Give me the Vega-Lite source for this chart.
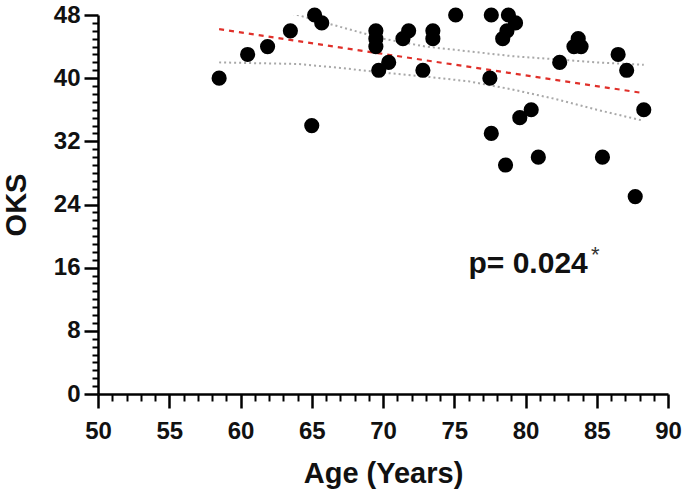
{
  "$schema": "https://vega.github.io/schema/vega-lite/v6.json",
  "width": 570,
  "height": 379,
  "autosize": "none",
  "padding": {"left": 98, "top": 15, "right": 17, "bottom": 102},
  "background": "white",
  "config": {"view": {"stroke": null}},
  "datasets": {
    "points": [
      {"age": 58.5, "oks": 40}, {"age": 60.5, "oks": 43}, {"age": 61.9, "oks": 44}, {"age": 63.5, "oks": 46},
      {"age": 65.0, "oks": 34}, {"age": 65.2, "oks": 48}, {"age": 65.7, "oks": 47}, {"age": 69.5, "oks": 46},
      {"age": 69.5, "oks": 45}, {"age": 69.5, "oks": 44}, {"age": 69.7, "oks": 41}, {"age": 70.4, "oks": 42},
      {"age": 71.4, "oks": 45}, {"age": 71.8, "oks": 46}, {"age": 72.8, "oks": 41}, {"age": 73.5, "oks": 46},
      {"age": 73.5, "oks": 45}, {"age": 75.1, "oks": 48}, {"age": 77.6, "oks": 48}, {"age": 77.5, "oks": 40},
      {"age": 77.6, "oks": 33}, {"age": 78.8, "oks": 48}, {"age": 79.3, "oks": 47}, {"age": 78.7, "oks": 46},
      {"age": 78.4, "oks": 45}, {"age": 78.6, "oks": 29}, {"age": 79.6, "oks": 35}, {"age": 80.4, "oks": 36},
      {"age": 80.9, "oks": 30}, {"age": 82.4, "oks": 42}, {"age": 83.4, "oks": 44}, {"age": 83.9, "oks": 44},
      {"age": 83.7, "oks": 45}, {"age": 85.4, "oks": 30}, {"age": 86.5, "oks": 43}, {"age": 87.1, "oks": 41},
      {"age": 87.7, "oks": 25}, {"age": 88.3, "oks": 36}
    ],
    "fit": [
      {"age": 58.5, "oks": 46.2}, {"age": 88.3, "oks": 38.1}
    ],
    "band": [
      {"age": 58.5, "oks": 50.4, "bound": "upper"}, {"age": 61, "oks": 49.2, "bound": "upper"},
      {"age": 64, "oks": 48.0, "bound": "upper"}, {"age": 67, "oks": 46.5, "bound": "upper"},
      {"age": 70, "oks": 45.0, "bound": "upper"}, {"age": 73, "oks": 44.0, "bound": "upper"},
      {"age": 76, "oks": 43.4, "bound": "upper"}, {"age": 79, "oks": 42.8, "bound": "upper"},
      {"age": 82, "oks": 42.4, "bound": "upper"}, {"age": 85, "oks": 42.0, "bound": "upper"},
      {"age": 88.3, "oks": 41.7, "bound": "upper"},
      {"age": 58.5, "oks": 42.0, "bound": "lower"}, {"age": 61, "oks": 41.9, "bound": "lower"},
      {"age": 64, "oks": 41.8, "bound": "lower"}, {"age": 67, "oks": 41.3, "bound": "lower"},
      {"age": 70, "oks": 40.7, "bound": "lower"}, {"age": 73, "oks": 40.2, "bound": "lower"},
      {"age": 76, "oks": 39.6, "bound": "lower"}, {"age": 79, "oks": 38.6, "bound": "lower"},
      {"age": 82, "oks": 37.4, "bound": "lower"}, {"age": 85, "oks": 36.0, "bound": "lower"},
      {"age": 88.3, "oks": 34.6, "bound": "lower"}
    ],
    "label": [
      {"age": 76.0, "oks": 16.5, "text": "p= 0.024"}
    ],
    "star": [
      {"age": 84.6, "oks": 17.6, "text": "*"}
    ]
  },
  "encoding": {
    "x": {
      "field": "age",
      "type": "quantitative",
      "scale": {"domain": [50, 90], "nice": false, "zero": false},
      "axis": {
        "title": "Age (Years)",
        "values": [50,51,52,53,54,55,56,57,58,59,60,61,62,63,64,65,66,67,68,69,70,71,72,73,74,75,76,77,78,79,80,81,82,83,84,85,86,87,88,89,90],
        "labelExpr": "datum.value % 5 === 0 ? datum.label : ''",
        "tickSize": {"condition": {"test": "datum.value % 5 === 0", "value": 14}, "value": 7},
        "tickWidth": {"condition": {"test": "datum.value % 5 === 0", "value": 2.5}, "value": 2},
        "tickColor": "#000",
        "domainColor": "#000",
        "domainWidth": 2.5,
        "grid": false,
        "labelOverlap": false,
        "labelFlush": false,
        "labelFont": "Liberation Sans",
        "labelFontWeight": "bold",
        "labelFontSize": 24,
        "labelColor": "#111",
        "labelPadding": 11,
        "titleFont": "Liberation Sans",
        "titleFontWeight": "bold",
        "titleFontSize": 29,
        "titleColor": "#111",
        "titlePadding": 16
      }
    },
    "y": {
      "field": "oks",
      "type": "quantitative",
      "scale": {"domain": [0, 48], "nice": false, "zero": true},
      "axis": {
        "title": "OKS",
        "values": [0,1,2,3,4,5,6,7,8,9,10,11,12,13,14,15,16,17,18,19,20,21,22,23,24,25,26,27,28,29,30,31,32,33,34,35,36,37,38,39,40,41,42,43,44,45,46,47,48],
        "labelExpr": "datum.value % 8 === 0 ? datum.label : ''",
        "tickSize": {"condition": {"test": "datum.value % 8 === 0", "value": 14}, "value": 6},
        "tickWidth": {"condition": {"test": "datum.value % 8 === 0", "value": 2.5}, "value": 2},
        "tickColor": "#000",
        "domainColor": "#000",
        "domainWidth": 2.5,
        "grid": false,
        "labelOverlap": false,
        "labelFlush": false,
        "labelFont": "Liberation Sans",
        "labelFontWeight": "bold",
        "labelFontSize": 24,
        "labelColor": "#111",
        "labelPadding": 4,
        "titleFont": "Liberation Sans",
        "titleFontWeight": "bold",
        "titleFontSize": 29,
        "titleColor": "#111",
        "titlePadding": 22
      }
    }
  },
  "layer": [
    {
      "data": {"name": "band"},
      "mark": {"type": "line", "color": "#a8a8a8", "strokeWidth": 2, "strokeDash": [2, 3], "clip": true},
      "encoding": {"detail": {"field": "bound", "type": "nominal"}}
    },
    {
      "data": {"name": "fit"},
      "mark": {"type": "line", "color": "#e0302a", "strokeWidth": 2.2, "strokeDash": [5, 5], "clip": true}
    },
    {
      "data": {"name": "points"},
      "mark": {"type": "circle", "size": 230, "color": "#000", "opacity": 1}
    },
    {
      "data": {"name": "label"},
      "mark": {"type": "text", "align": "left", "baseline": "middle", "font": "Liberation Sans", "fontWeight": "bold", "fontSize": 30, "color": "#111"},
      "encoding": {"text": {"field": "text"}}
    },
    {
      "data": {"name": "star"},
      "mark": {"type": "text", "align": "left", "baseline": "middle", "font": "Liberation Sans", "fontSize": 22, "color": "#333"},
      "encoding": {"text": {"field": "text"}}
    }
  ]
}
